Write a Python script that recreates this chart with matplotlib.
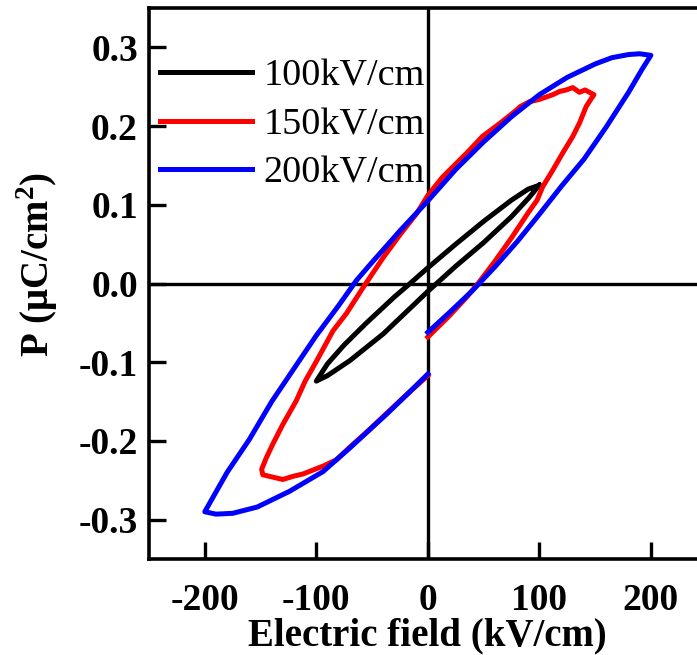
import numpy as np
import matplotlib
matplotlib.use("Agg")
import matplotlib.pyplot as plt

plt.rcParams["font.family"] = ["Liberation Serif", "DejaVu Serif"]
plt.rcParams["mathtext.fontset"] = "custom"
plt.rcParams["mathtext.rm"] = "Liberation Serif"
plt.rcParams["mathtext.bf"] = "Liberation Serif:bold"

# P-E loops, traced in measurement order (E in kV/cm, P in uC/cm2)
E_100 = [100, 90, 75, 50, 25, 0, -16, -30, -55, -75, -90, -100,
         -90, -70, -40, -20, 0, 25, 50, 75, 90, 100]
P_100 = [0.125, 0.120, 0.106, 0.079, 0.050, 0.020, 0.000, -0.017, -0.050, -0.078, -0.102, -0.124,
         -0.117, -0.098, -0.064, -0.037, -0.010, 0.022, 0.052, 0.085, 0.108, 0.125]

E_150 = [0, 20, 35, 45, 60, 75, 90, 98, 103, 112, 121, 130, 136, 142, 147, 149,
         141, 136, 130, 124, 118, 112, 100, 91, 83, 80, 65, 49, 35, 13, 0,
         -10, -25, -40, -58, -73, -85, -100, -110, -118, -130, -139, -145, -149, -148,
         -139, -130, -121, -112, -103, -94, -82, -70, -55, -37, -18, 0]
P_150 = [-0.068, -0.040, -0.017, 0.000, 0.028, 0.058, 0.090, 0.106, 0.123, 0.144, 0.166, 0.187, 0.204, 0.225, 0.236, 0.240,
         0.246, 0.243, 0.249, 0.246, 0.244, 0.240, 0.234, 0.231, 0.225, 0.221, 0.204, 0.187, 0.166, 0.135, 0.112,
         0.089, 0.062, 0.033, -0.005, -0.038, -0.060, -0.099, -0.124, -0.149, -0.179, -0.204, -0.222, -0.236, -0.243,
         -0.246, -0.249, -0.245, -0.242, -0.237, -0.232, -0.224, -0.208, -0.189, -0.165, -0.140, -0.117]

E_200 = [0, 20, 40, 60, 80, 100, 120, 140, 160, 180, 192, 200,
         190, 180, 165, 150, 125, 100, 75, 50, 25, 0, -25, -50, -64, -80, -100, -120, -140, -160, -180, -200,
         -190, -175, -153, -124, -94, -70, -37, -18, 0]
P_200 = [-0.062, -0.036, -0.009, 0.021, 0.053, 0.088, 0.124, 0.158, 0.199, 0.243, 0.272, 0.290,
         0.292, 0.291, 0.287, 0.279, 0.262, 0.240, 0.212, 0.180, 0.145, 0.105, 0.067, 0.027, 0.004, -0.028, -0.066, -0.108, -0.150, -0.198, -0.240, -0.290,
         -0.293, -0.292, -0.284, -0.264, -0.239, -0.209, -0.166, -0.140, -0.115]

labels = ["100kV/cm", "150kV/cm", "200kV/cm"]
colors = ["black", "red", "blue"]

fig = plt.figure(figsize=(6.97, 6.55), dpi=100)
ax = fig.add_axes([0.2138, 0.1466, 0.800, 0.841])

ax.axhline(0, color="black", lw=2.4, zorder=1)
ax.axvline(0, color="black", lw=2.4, zorder=1)

for E, P, lab, c in zip([E_100, E_150, E_200], [P_100, P_150, P_200], labels, colors):
    ax.plot(E, P, color=c, lw=3.6, label=lab, zorder=2, solid_joinstyle="round")

ax.set_xlim(-250, 250)
ax.set_ylim(-0.35, 0.35)
ax.set_xticks([-200, -100, 0, 100, 200])
ax.set_yticks([-0.3, -0.2, -0.1, 0.0, 0.1, 0.2, 0.3])
ax.set_yticklabels(["-0.3", "-0.2", "-0.1", "0.0", "0.1", "0.2", "0.3"])
ax.set_xticklabels(["-200", "-100", "0", "100", "200"])
ax.tick_params(direction="in", length=12, width=2.4, labelsize=27)
ax.tick_params(axis="x", pad=17)
ax.tick_params(axis="y", pad=8)
for t in ax.get_xticklabels() + ax.get_yticklabels():
    t.set_fontweight("bold")
for s in ax.spines.values():
    s.set_linewidth(2.6)

ax.set_xlabel("Electric field (kV/cm)", fontsize=28, fontweight="bold", labelpad=0)
ax.set_ylabel("P (μC/cm$^{\\mathbf{2}}$)", fontsize=28, fontweight="bold")
ax.yaxis.set_label_coords(-0.16, 0.535)

ax.legend(loc="upper left", bbox_to_anchor=(0.02, 0.908), frameon=False,
          fontsize=27.5, handlelength=2.4, handletextpad=0.3, labelspacing=0.36,
          borderpad=0, borderaxespad=0)

fig.savefig("out.png", dpi=100)
